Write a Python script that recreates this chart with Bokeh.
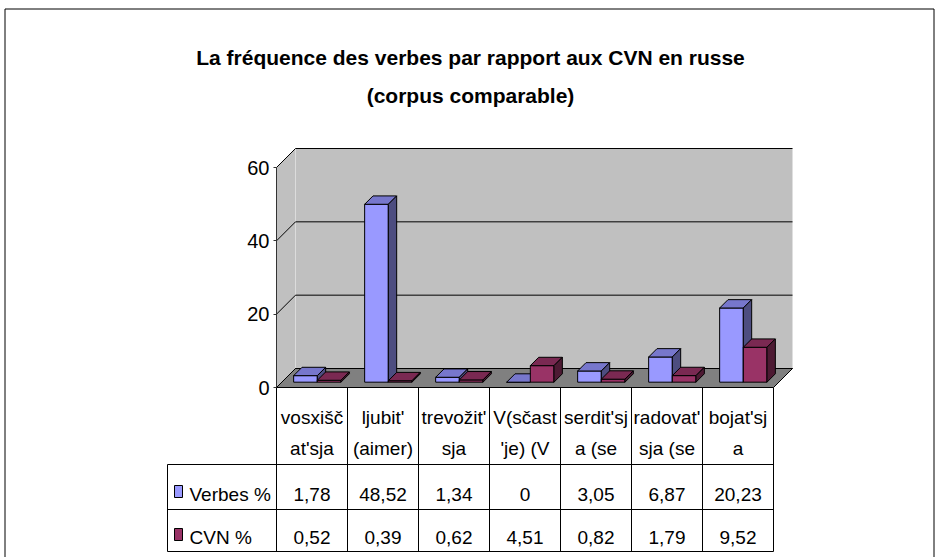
from bokeh.plotting import figure
from bokeh.models import Range1d, LinearAxis, FixedTicker
from bokeh.core.properties import value
from bokeh.embed import file_html
from bokeh.resources import INLINE

# ---------------- data ----------------
title_lines = ["La fréquence des verbes par rapport aux CVN en russe", "(corpus comparable)"]
categories = ["vosxišč\nat'sja", "ljubit'\n(aimer)", "trevožit'\nsja", "V(sčast\n'je) (V",
              "serdit'sj\na (se", "radovat'\nsja (se", "bojat'sj\na"]
series_names = ["Verbes %", "CVN %"]
verbes = [1.78, 48.52, 1.34, 0, 3.05, 6.87, 20.23]
cvn = [0.52, 0.39, 0.62, 4.51, 0.82, 1.79, 9.52]
y_ticks = [0, 20, 40, 60]

# ---------------- styles / layout ----------------
FONT = "Liberation Sans"
W, H = 940, 557
PX0, PY0 = 0, 0            # page offset of the canvas
X_ORIGIN = 276             # page x of the front value axis
CAT_PX = 71                # px per category
Y_ZERO = 387               # page y of value 0 (front)
Y_PX = 220 / 60            # px per value unit
Y_MAX = 60

x_start = (PX0 - X_ORIGIN) / CAT_PX
x_end = (PX0 + W - X_ORIGIN) / CAT_PX
y_end = (Y_ZERO - PY0) / Y_PX
y_start = -(PY0 + H - Y_ZERO) / Y_PX

p = figure(width=W, height=H, x_range=Range1d(x_start, x_end), y_range=Range1d(y_start, y_end),
           output_backend="svg", toolbar_location=None, x_axis_location=None, y_axis_location=None,
           min_border=0, outline_line_color=None)
p.extra_x_ranges = {"px": Range1d(PX0, PX0 + W)}
p.extra_y_ranges = {"px": Range1d(PY0 + H, PY0)}
p.background_fill_color = "white"
p.border_fill_color = "white"
p.grid.visible = False

n = len(categories)
DX = 19 / CAT_PX
DY = 19 / Y_PX

# walls
p.patch([0, DX, DX, 0], [0, DY, Y_MAX + DY, Y_MAX], fill_color="#C0C0C0", line_color=None)
p.patch([DX, n + DX, n + DX, DX], [DY, DY, Y_MAX + DY, Y_MAX + DY], fill_color="#C0C0C0", line_color=None)
p.line([DX, DX], [DY, Y_MAX + DY], line_color="#DCDCDC", line_width=1)
# floor
p.patch([0, n, n + DX, DX], [0, 0, DY, DY], fill_color="#808080", line_color="black", line_width=1)
# gridlines (left wall diagonals + back wall)
p.multi_line([[0, DX, n + DX] for t in y_ticks], [[t, t + DY, t + DY] for t in y_ticks],
             line_color="black", line_width=1)

# bars
F0, F1 = 0.28, 0.72
BW = 1 / 3
series = [(verbes, ("#9999FF", "#7777CC", "#4D4D80")),
          (cvn, ("#993366", "#7A2952", "#4D1A33"))]
for s, (vals, (cf, ct, cs)) in enumerate(series):
    fx, tx, sx = [], [], []
    fy, ty, sy = [], [], []
    d = (F1 - F0) * DX
    e = (F1 - F0) * DY
    for i, v in enumerate(vals):
        x0 = i + 0.5 - BW + s * BW + F0 * DX
        x1 = x0 + BW
        y0 = F0 * DY
        y1 = y0 + v
        fx.append([x0, x1, x1, x0]); fy.append([y0, y0, y1, y1])
        tx.append([x0, x1, x1 + d, x0 + d]); ty.append([y1, y1, y1 + e, y1 + e])
        sx.append([x1, x1 + d, x1 + d, x1]); sy.append([y0, y0 + e, y1 + e, y1])
    p.patches(fx, fy, fill_color=cf, line_color="black", line_width=1)
    p.patches(tx, ty, fill_color=ct, line_color="black", line_width=1)
    p.patches(sx, sy, fill_color=cs, line_color="black", line_width=1)

# value axis
ax = LinearAxis(fixed_location=0, bounds=(0, Y_MAX), ticker=FixedTicker(ticks=y_ticks, minor_ticks=[]))
ax.axis_line_color = "#333333"
ax.major_tick_line_color = "#333333"
ax.major_tick_out = 3
ax.major_tick_in = 0
ax.minor_tick_out = 0
ax.minor_tick_in = 0
ax.major_label_standoff = 4
ax.major_label_text_font = FONT
ax.major_label_text_font_size = "20px"
ax.major_label_text_color = "black"
p.add_layout(ax, "left")

# title
p.text(x=[470, 470], y=[57, 95], text=title_lines, x_range_name="px", y_range_name="px",
       text_align="center", text_baseline="alphabetic", text_font=value(FONT),
       text_font_style="bold", text_font_size="21px", text_color="black")

# data table
LEG_L = (167 - X_ORIGIN) / CAT_PX
T_TOP, T_H1, T_R1, T_R2 = 387, 464, 509, 551
p.multi_line([[LEG_L, n], [LEG_L, n], [LEG_L, n]], [[T_H1, T_H1], [T_R1, T_R1], [T_R2, T_R2]],
             y_range_name="px", line_color="black", line_width=1)
p.multi_line([[k, k] for k in range(n + 1)] + [[LEG_L, LEG_L]],
             [[T_TOP, T_R2] for k in range(n + 1)] + [[T_H1, T_R2]],
             y_range_name="px", line_color="black", line_width=1)

line1 = [c.split("\n")[0] for c in categories]
line2 = [c.split("\n")[1] for c in categories]
cx = [i + 0.5 for i in range(n)]
common = dict(y_range_name="px", text_align="center", text_baseline="alphabetic",
              text_font=value(FONT), text_font_size="19px", text_color="black")
p.text(x=cx, y=[416.5] * n, text=line1, **common)
p.text(x=cx, y=[447.5] * n, text=line2, **common)


def fmt(v):
    return f"{v:g}".replace(".", ",")


p.text(x=cx, y=[493.5] * n, text=[fmt(v) for v in verbes], **common)
p.text(x=cx, y=[537] * n, text=[fmt(v) for v in cvn], **common)

# legend keys in the table
p.quad(left=[174, 174], right=[182, 182], top=[485, 528], bottom=[497, 540],
       x_range_name="px", y_range_name="px", fill_color=["#9999FF", "#993366"], line_color="black",
       line_width=1)
p.text(x=[189, 189], y=[493.5, 537], text=series_names, x_range_name="px", y_range_name="px",
       text_align="left", text_baseline="alphabetic", text_font=value(FONT),
       text_font_size="19px", text_color="black")

# outer border
p.multi_line([[4.5, 4.5], [4.5, 933.5], [933.5, 933.5]], [[557, 8.5], [8.5, 8.5], [8.5, 557]],
             x_range_name="px", y_range_name="px", line_color="black", line_width=1)

open("out.html", "w").write(file_html(p, INLINE))
